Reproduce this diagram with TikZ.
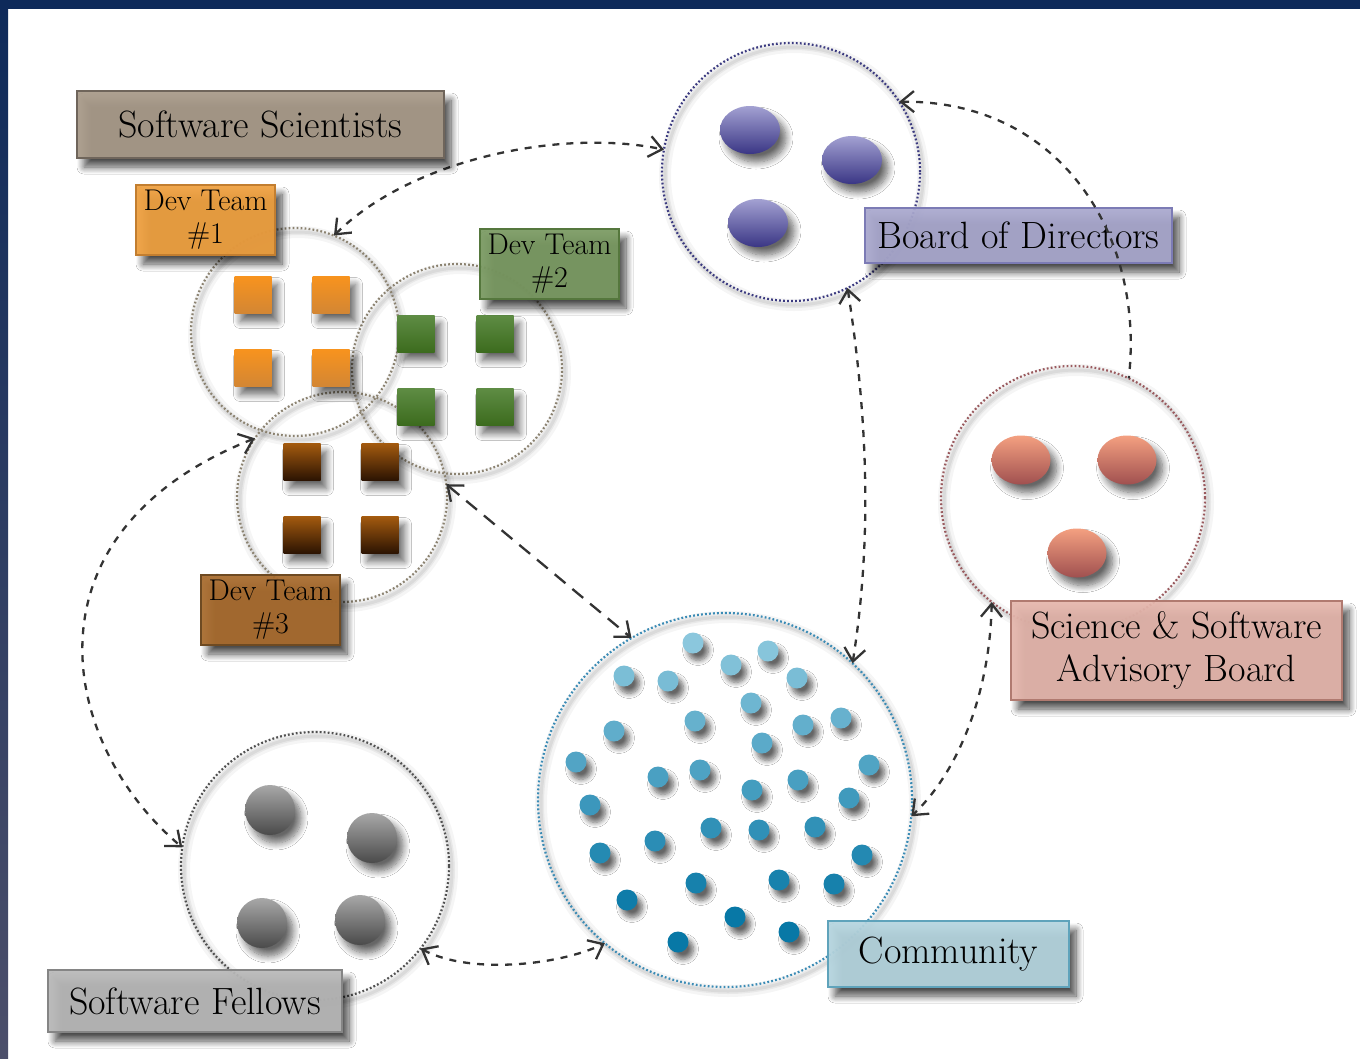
\documentclass[tikz,border=0pt]{standalone}
\usepackage{fontspec}
\usetikzlibrary{arrows.meta,shadows.blur}

% frame
\definecolor{navy}{HTML}{0E2A5A}
\definecolor{slate}{HTML}{4C4F6A}
% labels: fill / border
\definecolor{sciF}{HTML}{A89A89}\definecolor{sciD}{HTML}{6F655B}
\definecolor{oneF}{HTML}{EFA03F}\definecolor{oneD}{HTML}{C27E30}
\definecolor{twoF}{HTML}{7A9A62}\definecolor{twoD}{HTML}{55773D}
\definecolor{thrF}{HTML}{A86B2D}\definecolor{thrD}{HTML}{6E4A22}
\definecolor{bodF}{HTML}{A9A8CE}\definecolor{bodD}{HTML}{7C7BB5}
\definecolor{sabF}{HTML}{E5B6AC}\definecolor{sabD}{HTML}{B07A70}
\definecolor{comF}{HTML}{B5D5DF}\definecolor{comD}{HTML}{5FA3BB}
\definecolor{felF}{HTML}{B8B8B8}\definecolor{felD}{HTML}{858585}
% group outlines
\definecolor{devR}{HTML}{8B8270}
\definecolor{bodR}{HTML}{3B3A80}
\definecolor{sabR}{HTML}{9A5A5E}
\definecolor{felR}{HTML}{505050}
\definecolor{comR}{HTML}{3A8BB5}
% members
\definecolor{or1}{HTML}{F7931E}\definecolor{or2}{HTML}{D38634}
\definecolor{gr1}{HTML}{5E8C44}\definecolor{gr2}{HTML}{3C6B1D}
\definecolor{br1}{HTML}{A35A0F}\definecolor{br2}{HTML}{2B1302}
\definecolor{pu1}{HTML}{A3A1D2}\definecolor{pu2}{HTML}{3A3685}
\definecolor{sa1}{HTML}{F4A080}\definecolor{sa2}{HTML}{A05050}
\definecolor{gy1}{HTML}{A8A8A8}\definecolor{gy2}{HTML}{4A4A4A}
\definecolor{dotL}{HTML}{8EC9DE}\definecolor{dotD}{HTML}{0878A6}

\tikzset{
  tag/.style 2 args={rectangle, fill=#1, draw=#2, line width=1.6pt, inner sep=0pt,
    align=center, fill opacity=0.93, text opacity=1, text=black,
    blur shadow={shadow xshift=7pt, shadow yshift=-9pt, shadow blur radius=7pt,
      shadow blur steps=10, shadow opacity=75}},
  bigtxt/.style={font=\fontsize{38}{43}\selectfont},
  smalltxt/.style={font=\fontsize{30}{33}\selectfont},
  ring/.style={circle, inner sep=0pt, outer sep=0pt, minimum size=#1},
  dotline/.style={draw=#1, line width=2.2pt, dash pattern=on 1.8pt off 2.2pt},
  halo/.style={draw=black, opacity=#1},
  memshadow/.style={blur shadow={shadow xshift=6pt, shadow yshift=-8pt,
      shadow blur radius=7pt, shadow blur steps=10, shadow opacity=60}},
  dotshadow/.style={blur shadow={shadow xshift=5pt, shadow yshift=-7pt,
      shadow blur radius=5pt, shadow blur steps=8, shadow opacity=60}},
  link/.style={draw=black!80, line width=2.3pt, dash pattern=on 7pt off 7pt},
  longlink/.style={draw=black!80, line width=2.3pt, dash pattern=on 14pt off 9pt},
}

\begin{document}
\begin{tikzpicture}[x=1pt, y=-1pt, >={Straight Barb[length=13pt,width=21pt]}]
\useasboundingbox (0,0) rectangle (1360,1058);
\fill[white] (0,0) rectangle (1360,1058);
\shade[top color=navy, bottom color=slate] (0,0) rectangle (8,1058);
\fill[navy] (0,0) rectangle (1360,9);

% ---- group circles (soft halo, then dotted outline) ----
\foreach \cx/\cy/\r in {295/332/104, 457/369/105, 342/497/105, 791/172/129,
                        1073/498/132, 315/866/134, 725/800/187} {
  \draw[halo=0.04, line width=12pt] (\cx+3,\cy+4) circle[radius=\r];
  \draw[halo=0.05, line width=6pt] (\cx+3,\cy+4) circle[radius=\r];
  \draw[halo=0.06, line width=3pt] (\cx+3,\cy+4) circle[radius=\r];
}
\node[ring=208pt, dotline=devR] (c1) at (295,332) {};
\node[ring=210pt, dotline=devR] (c2) at (457,369) {};
\node[ring=210pt, dotline=devR] (c3) at (342,497) {};
\node[ring=258pt, dotline=bodR] (cb) at (791,172) {};
\node[ring=264pt, dotline=sabR] (cs) at (1073,498) {};
\node[ring=268pt, dotline=felR] (cf) at (315,866) {};
\node[ring=374pt, dotline=comR] (cm) at (725,800) {};

% ---- members ----
\foreach \x/\y in {253/295, 331/295, 253/368, 331/368}
  \shade[top color=or1, bottom color=or2, memshadow] (\x-18.5,\y-18.5) rectangle (\x+18.5,\y+18.5);
\foreach \x/\y in {416/334, 495/334, 416/407, 495/407}
  \shade[top color=gr1, bottom color=gr2, memshadow] (\x-18.5,\y-18.5) rectangle (\x+18.5,\y+18.5);
\foreach \x/\y in {302/462, 380/462, 302/535, 380/535}
  \shade[top color=br1, bottom color=br2, memshadow] (\x-18.5,\y-18.5) rectangle (\x+18.5,\y+18.5);

\foreach \x/\y in {750/130, 852/160, 758/223}
  \shade[top color=pu1, bottom color=pu2, memshadow] (\x,\y) ellipse[x radius=30, y radius=24];
\foreach \x/\y in {1021/460, 1127/460, 1077/553}
  \shade[top color=sa1, bottom color=sa2, memshadow] (\x,\y) ellipse[x radius=29.5, y radius=24.5];
\foreach \x/\y in {270/810, 372/838, 262/923, 360/920}
  \shade[top color=gy1, bottom color=gy2, memshadow] (\x,\y) circle[radius=25];

\foreach \x/\y in {693/643, 768/651, 624/676, 668/681, 731/665, 797/678, 751/703,
                   614/731, 695/721, 803/725, 841/718, 762/743, 576/762, 658/777,
                   700/770, 869/765, 590/805, 752/790, 798/780, 849/798, 711/828,
                   759/830, 815/827, 600/853, 655/841, 862/855, 696/883, 779/880,
                   834/884, 627/900, 735/917, 789/932, 678/942} {
  \pgfmathtruncatemacro\p{max(0,min(100,(\y-635)*0.36))}
  \fill[dotD!\p!dotL, dotshadow] (\x,\y) circle[radius=10.5];
}

% ---- connectors ----
\draw[link, <->] (c1.68) .. controls (410,160) and (560,128) .. (cb.170);
\draw[link, <->] (cb.-64) .. controls (868,420) and (872,540) .. (cm.47);
\draw[link, <->] (cs.-128) .. controls (990,690) and (960,770) .. (cm.-5);
\draw[longlink, <->] (c3.7) -- (cm.120);
\draw[link, <->] (c3.146) .. controls (16,533) and (60,745) .. (cf.172);
\draw[link, <->] (cf.-38) .. controls (470,975) and (560,965) .. (cm.-130);

% ---- labels ----
\node[tag={sciF}{sciD}, bigtxt, minimum width=367pt, minimum height=67pt] (sci) at (260.5,124.5) {Software Scientists};
\node[tag={oneF}{oneD}, smalltxt, minimum width=139pt, minimum height=70pt] (dev1) at (205.5,220) {Dev Team\\\#1};
\node[tag={twoF}{twoD}, smalltxt, minimum width=139pt, minimum height=70pt] (dev2) at (549.5,264) {Dev Team\\\#2};
\node[tag={thrF}{thrD}, smalltxt, minimum width=139pt, minimum height=70pt] (dev3) at (270.5,610) {Dev Team\\\#3};
\node[tag={bodF}{bodD}, bigtxt, minimum width=307pt, minimum height=55pt] (bod) at (1018.5,235.5) {Board of Directors};
\node[tag={sabF}{sabD}, bigtxt, minimum width=331pt, minimum height=99pt] (sab) at (1176.5,650.5) {Science \& Software\\Advisory Board};
\node[tag={comF}{comD}, bigtxt, minimum width=241pt, minimum height=66pt] (com) at (948.5,954) {Community};
\node[tag={felF}{felD}, bigtxt, minimum width=294pt, minimum height=62pt] (fel) at (195,1001) {Software Fellows};

% the board/advisory link runs across the board label
\draw[link, <-] (cb.33) .. controls (1060,100) and (1145,235) .. (cs.65);
\end{tikzpicture}
\end{document}
